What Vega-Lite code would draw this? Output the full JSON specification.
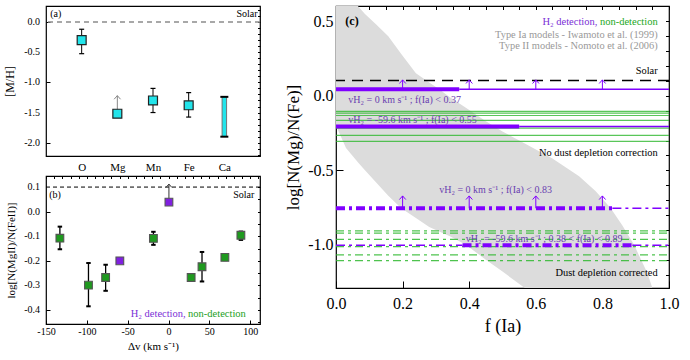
{
  "$schema": "https://vega.github.io/schema/vega-lite/v6.json",
  "padding": {"left": 2, "top": 4, "right": 5, "bottom": 2},
  "config": {
    "font": "Liberation Serif",
    "view": {"stroke": "#000", "strokeWidth": 1.2},
    "axis": {"domain": false, "grid": false, "labelColor": "#000", "titleColor": "#000", "titleFontWeight": "normal", "tickColor": "#000", "tickWidth": 1, "labelFont": "Liberation Serif", "titleFont": "Liberation Serif", "labelOverlap": false, "labelBound": false, "labelFlush": false},
    "text": {"font": "Liberation Serif"}
  },
  "datasets": {
    "metals": [
      {"element": "O", "pos": 1, "val": -0.30, "lo": -0.525, "hi": -0.12, "kind": "measurement"},
      {"element": "Mg", "pos": 2, "val": -1.52, "lo": null, "hi": -1.22, "kind": "lower limit"},
      {"element": "Mn", "pos": 3, "val": -1.30, "lo": -1.50, "hi": -1.10, "kind": "measurement"},
      {"element": "Fe", "pos": 4, "val": -1.38, "lo": -1.575, "hi": -1.17, "kind": "measurement"},
      {"element": "Ca", "pos": 5, "val": null, "lo": -1.90, "hi": -1.24, "kind": "range"}
    ],
    "mh_ticks": [
      {"v": -2.0, "label": "-2.0"}, {"v": -1.5, "label": "-1.5"}, {"v": -1.0, "label": "-1.0"}, {"v": -0.5, "label": "-0.5"}, {"v": 0, "label": "0.0"}
    ],
    "mgfe_ticks": [
      {"v": -0.4, "label": "-0.4"}, {"v": -0.3, "label": "-0.3"}, {"v": -0.2, "label": "-0.2"}, {"v": -0.1, "label": "-0.1"}, {"v": 0, "label": "0.0"}, {"v": 0.1, "label": "0.1"}
    ],
    "mgfe": [
      {"dv": -133, "ratio": -0.108, "lo": -0.153, "hi": -0.061, "limit": null, "detection": "non"},
      {"dv": -98, "ratio": -0.299, "lo": -0.385, "hi": -0.209, "limit": null, "detection": "non"},
      {"dv": -77, "ratio": -0.268, "lo": -0.322, "hi": -0.216, "limit": null, "detection": "non"},
      {"dv": -59.6, "ratio": -0.200, "lo": null, "hi": null, "limit": null, "detection": "H2"},
      {"dv": -18.5, "ratio": -0.109, "lo": -0.135, "hi": -0.082, "limit": null, "detection": "non"},
      {"dv": 0.5, "ratio": 0.039, "lo": null, "hi": null, "limit": 0.112, "detection": "H2"},
      {"dv": 27.7, "ratio": -0.268, "lo": -0.281, "hi": -0.254, "limit": null, "detection": "non"},
      {"dv": 41, "ratio": -0.224, "lo": -0.284, "hi": -0.164, "limit": null, "detection": "non"},
      {"dv": 69, "ratio": -0.186, "lo": -0.197, "hi": -0.176, "limit": null, "detection": "non"},
      {"dv": 88.6, "ratio": -0.096, "lo": -0.115, "hi": -0.081, "limit": null, "detection": "non"}
    ],
    "fia_band": [
      {"f": 0, "lo": -0.20, "hi": 0.76},
      {"f": 0.03, "lo": -0.35, "hi": 0.68},
      {"f": 0.067, "lo": -0.45, "hi": 0.60},
      {"f": 0.087, "lo": -0.50, "hi": 0.55},
      {"f": 0.12, "lo": -0.58, "hi": 0.48},
      {"f": 0.157, "lo": -0.67, "hi": 0.40},
      {"f": 0.196, "lo": -0.755, "hi": 0.28},
      {"f": 0.24, "lo": -0.82, "hi": 0.152},
      {"f": 0.28, "lo": -0.88, "hi": 0.09},
      {"f": 0.31, "lo": -0.91, "hi": 0.045},
      {"f": 0.342, "lo": -0.943, "hi": -0.01},
      {"f": 0.39, "lo": -1.0, "hi": -0.08},
      {"f": 0.45, "lo": -1.10, "hi": -0.17},
      {"f": 0.5, "lo": -1.18, "hi": -0.24},
      {"f": 0.567, "lo": -1.29, "hi": -0.32},
      {"f": 0.65, "lo": -1.42, "hi": -0.42},
      {"f": 0.73, "lo": -1.55, "hi": -0.54},
      {"f": 0.78, "lo": -1.62, "hi": -0.64},
      {"f": 0.825, "lo": -1.70, "hi": -0.755},
      {"f": 0.86, "lo": -1.75, "hi": -0.87},
      {"f": 0.895, "lo": -1.80, "hi": -1.0},
      {"f": 0.935, "lo": -1.86, "hi": -1.19},
      {"f": 0.95, "lo": -1.88, "hi": -1.29},
      {"f": 1.0, "lo": -1.95, "hi": -1.55}
    ],
    "fia_lines": [
      {"detection": "non", "correction": "none", "v": -0.105, "f0": 0, "f1": 1, "part": "all"},
      {"detection": "non", "correction": "none", "v": -0.116, "f0": 0, "f1": 1, "part": "all"},
      {"detection": "non", "correction": "none", "v": -0.132, "f0": 0, "f1": 1, "part": "all"},
      {"detection": "non", "correction": "none", "v": -0.165, "f0": 0, "f1": 1, "part": "all"},
      {"detection": "non", "correction": "none", "v": -0.217, "f0": 0, "f1": 1, "part": "all"},
      {"detection": "non", "correction": "none", "v": -0.266, "f0": 0, "f1": 1, "part": "all"},
      {"detection": "non", "correction": "none", "v": -0.306, "f0": 0, "f1": 1, "part": "all"},
      {"detection": "non", "correction": "dust", "v": -0.907, "f0": 0, "f1": 1, "part": "all"},
      {"detection": "non", "correction": "dust", "v": -0.922, "f0": 0, "f1": 1, "part": "all"},
      {"detection": "non", "correction": "dust", "v": -0.963, "f0": 0, "f1": 1, "part": "all"},
      {"detection": "non", "correction": "dust", "v": -1.012, "f0": 0, "f1": 1, "part": "all"},
      {"detection": "non", "correction": "dust", "v": -1.068, "f0": 0, "f1": 1, "part": "all"},
      {"detection": "non", "correction": "dust", "v": -1.106, "f0": 0, "f1": 1, "part": "all"},
      {"detection": "H2", "correction": "none", "v": 0.045, "f0": 0, "f1": 0.37, "part": "allowed"},
      {"detection": "H2", "correction": "none", "v": 0.045, "f0": 0.37, "f1": 1, "part": "excluded"},
      {"detection": "H2", "correction": "none", "v": -0.206, "f0": 0, "f1": 0.55, "part": "allowed"},
      {"detection": "H2", "correction": "none", "v": -0.206, "f0": 0.55, "f1": 1, "part": "excluded"},
      {"detection": "H2", "correction": "dust", "v": -0.755, "f0": 0, "f1": 0.83, "part": "allowed"},
      {"detection": "H2", "correction": "dust", "v": -0.755, "f0": 0.83, "f1": 1, "part": "excluded"},
      {"detection": "H2", "correction": "dust", "v": -1.003, "f0": 0, "f1": 0.38, "part": "excluded"},
      {"detection": "H2", "correction": "dust", "v": -1.003, "f0": 0.38, "f1": 0.89, "part": "allowed"},
      {"detection": "H2", "correction": "dust", "v": -1.003, "f0": 0.89, "f1": 1, "part": "excluded"}
    ],
    "fia_arrows": [
      {"f": 0.2, "from": 0.045, "to": 0.107}, {"f": 0.4, "from": 0.045, "to": 0.107},
      {"f": 0.6, "from": 0.045, "to": 0.107}, {"f": 0.8, "from": 0.045, "to": 0.107},
      {"f": 0.2, "from": -0.755, "to": -0.672}, {"f": 0.4, "from": -0.755, "to": -0.672},
      {"f": 0.6, "from": -0.755, "to": -0.672}, {"f": 0.8, "from": -0.755, "to": -0.672}
    ],
    "notes_c": [
      {"f": 0.785, "v": 0.493, "note": "H₂ detection,", "kind": "legend_h2"},
      {"f": 0.966, "v": 0.493, "note": "non-detection", "kind": "legend_non"},
      {"f": 0.966, "v": 0.406, "note": "Type Ia models - Iwamoto et al. (1999)", "kind": "ref"},
      {"f": 0.966, "v": 0.332, "note": "Type II models - Nomoto et al. (2006)", "kind": "ref"},
      {"f": 0.966, "v": 0.17, "note": "Solar", "kind": "note"},
      {"f": 0.966, "v": -0.385, "note": "No dust depletion correction", "kind": "note"},
      {"f": 0.966, "v": -1.19, "note": "Dust depletion corrected", "kind": "note"},
      {"f": 0.037, "v": -0.027, "note": "vH₂ = 0 km s⁻¹ ; f(Ia) < 0.37", "kind": "sightline"},
      {"f": 0.037, "v": -0.161, "note": "vH₂ = -59.6 km s⁻¹ ; f(Ia) < 0.55", "kind": "sightline"},
      {"f": 0.31, "v": -0.632, "note": "vH₂ = 0 km s⁻¹ ; f(Ia) < 0.83", "kind": "sightline"},
      {"f": 0.39, "v": -0.961, "note": "vH₂ = -59.6 km s⁻¹ ; 0.38 < f(Ia) < 0.89", "kind": "sightline"},
      {"f": 0.028, "v": 0.5, "note": "(c)", "kind": "panel"}
    ]
  },
  "hconcat": [
    {
      "vconcat": [
        {
          "width": 214, "height": 150,
          "layer": [
            {"layer": [
              {"data": {"values": [{"solar": 0}]},
               "mark": {"type": "rule", "color": "#8c8c8c", "strokeDash": [5, 4], "strokeWidth": 1.4},
               "encoding": {"y": {"field": "solar", "type": "quantitative",
                 "scale": {"domain": [-2.22, 0.265], "nice": false, "zero": false},
                 "axis": {"title": "[M/H]", "values": [-2.0, -1.5, -1.0, -0.5, 0], "labels": false,
                   "tickSize": -4, "titleFontSize": 12, "titlePadding": 29}}}},
              {"data": {"name": "mh_ticks"},
               "mark": {"type": "text", "align": "right", "baseline": "middle", "dx": -6, "fontSize": 10, "color": "#000"},
               "encoding": {"x": {"datum": 0, "type": "quantitative"}, "y": {"field": "v", "type": "quantitative"}, "text": {"field": "label"}}},
              {"data": {"name": "metals"}, "transform": [{"filter": "datum.kind === 'measurement'"}],
               "mark": {"type": "rule", "color": "#000", "strokeWidth": 1},
               "encoding": {
                 "x": {"field": "pos", "type": "quantitative", "scale": {"domain": [0, 6], "nice": false, "zero": false},
                   "axis": {"title": null, "values": [1, 2, 3, 4, 5], "labelExpr": "['','O','Mg','Mn','Fe','Ca'][datum.value]", "labelOverlap": false, "ticks": false, "labelPadding": 5, "labelFontSize": 11}},
                 "y": {"field": "lo", "type": "quantitative"}, "y2": {"field": "hi"}}},
              {"data": {"name": "metals"}, "transform": [{"filter": "datum.kind === 'measurement'"}],
               "mark": {"type": "point", "shape": "M-1,0L1,0", "size": 25, "color": "#000", "strokeWidth": 1.2, "filled": false, "opacity": 1},
               "encoding": {"x": {"field": "pos", "type": "quantitative"}, "y": {"field": "lo", "type": "quantitative"}}},
              {"data": {"name": "metals"}, "transform": [{"filter": "datum.kind === 'measurement'"}],
               "mark": {"type": "point", "shape": "M-1,0L1,0", "size": 25, "color": "#000", "strokeWidth": 1.2, "filled": false, "opacity": 1},
               "encoding": {"x": {"field": "pos", "type": "quantitative"}, "y": {"field": "hi", "type": "quantitative"}}},
              {"data": {"name": "metals"}, "transform": [{"filter": "datum.kind === 'range'"}],
               "mark": {"type": "rule", "color": "#777", "strokeWidth": 5.5},
               "encoding": {"x": {"field": "pos", "type": "quantitative"}, "y": {"field": "lo", "type": "quantitative"}, "y2": {"field": "hi"}}},
              {"data": {"name": "metals"}, "transform": [{"filter": "datum.kind === 'range'"}],
               "mark": {"type": "rule", "color": "#22e4ea", "strokeWidth": 3.5},
               "encoding": {"x": {"field": "pos", "type": "quantitative"}, "y": {"field": "lo", "type": "quantitative"}, "y2": {"field": "hi"}}},
              {"data": {"name": "metals"}, "transform": [{"filter": "datum.kind === 'range'"}],
               "mark": {"type": "point", "shape": "M-1,0L1,0", "size": 64, "color": "#000", "strokeWidth": 2, "filled": false, "opacity": 1},
               "encoding": {"x": {"field": "pos", "type": "quantitative"}, "y": {"field": "lo", "type": "quantitative"}}},
              {"data": {"name": "metals"}, "transform": [{"filter": "datum.kind === 'range'"}],
               "mark": {"type": "point", "shape": "M-1,0L1,0", "size": 64, "color": "#000", "strokeWidth": 2, "filled": false, "opacity": 1},
               "encoding": {"x": {"field": "pos", "type": "quantitative"}, "y": {"field": "hi", "type": "quantitative"}}},
              {"data": {"name": "metals"}, "transform": [{"filter": "datum.kind === 'lower limit'"}],
               "mark": {"type": "rule", "color": "#888", "strokeWidth": 1},
               "encoding": {"x": {"field": "pos", "type": "quantitative"}, "y": {"field": "val", "type": "quantitative"}, "y2": {"field": "hi"}}},
              {"data": {"name": "metals"}, "transform": [{"filter": "datum.kind === 'lower limit'"}],
               "mark": {"type": "point", "shape": "M-0.8,0.9L0,0L0.8,0.9", "size": 64, "color": "#888", "strokeWidth": 1, "filled": false, "opacity": 1},
               "encoding": {"x": {"field": "pos", "type": "quantitative"}, "y": {"field": "hi", "type": "quantitative"}}},
              {"data": {"name": "metals"}, "transform": [{"filter": "datum.kind !== 'range'"}],
               "mark": {"type": "point", "shape": "square", "size": 80, "filled": true, "color": "#22e4ea", "stroke": "#222", "strokeWidth": 1.2, "opacity": 1},
               "encoding": {"x": {"field": "pos", "type": "quantitative"}, "y": {"field": "val", "type": "quantitative"}}},
              {"data": {"values": [{"pos": 0.12, "v": 0.14, "note": "(a)"}]},
               "mark": {"type": "text", "align": "left", "baseline": "middle", "fontSize": 10},
               "encoding": {"x": {"field": "pos", "type": "quantitative"}, "y": {"field": "v", "type": "quantitative"}, "text": {"field": "note"}}},
              {"data": {"values": [{"pos": 5.93, "v": 0.14, "note": "Solar"}]},
               "mark": {"type": "text", "align": "right", "baseline": "middle", "fontSize": 10},
               "encoding": {"x": {"field": "pos", "type": "quantitative"}, "y": {"field": "v", "type": "quantitative"}, "text": {"field": "note"}}}
            ]},
            {"data": {"values": [{"v": 0}]},
             "mark": {"type": "point", "opacity": 0},
             "encoding": {"y": {"field": "v", "type": "quantitative",
               "axis": {"orient": "right", "labels": false, "title": null, "tickSize": -2.5, "values": [-2.2,-2.1,-2.0,-1.9,-1.8,-1.7,-1.6,-1.5,-1.4,-1.3,-1.2,-1.1,-1.0,-0.9,-0.8,-0.7,-0.6,-0.5,-0.4,-0.3,-0.2,-0.1,0,0.1,0.2]}}}}
          ],
          "resolve": {"axis": {"y": "independent"}}
        },
        {
          "width": 214, "height": 148,
          "layer": [
            {"layer": [
              {"data": {"values": [{"solar": 0.1}]},
               "mark": {"type": "rule", "color": "#000", "strokeDash": [4, 3], "strokeWidth": 1},
               "encoding": {"y": {"field": "solar", "type": "quantitative",
                 "scale": {"domain": [-0.457, 0.145], "nice": false, "zero": false},
                 "axis": {"title": "log[N(MgII)/N(FeII)]", "values": [-0.4, -0.3, -0.2, -0.1, 0, 0.1], "labels": false,
                   "tickSize": -4, "titleFontSize": 11, "titlePadding": 29}}}},
              {"data": {"name": "mgfe_ticks"},
               "mark": {"type": "text", "align": "right", "baseline": "middle", "dx": -6, "fontSize": 10, "color": "#000"},
               "encoding": {"x": {"datum": -150, "type": "quantitative"}, "y": {"field": "v", "type": "quantitative"}, "text": {"field": "label"}}},
              {"data": {"name": "mgfe"}, "transform": [{"filter": "datum.lo != null"}],
               "mark": {"type": "rule", "color": "#000", "strokeWidth": 1.3},
               "encoding": {
                 "x": {"field": "dv", "type": "quantitative", "scale": {"domain": [-150, 112], "nice": false, "zero": false},
                   "axis": {"title": "Δv (km s⁻¹)", "values": [-150, -100, -50, 0, 50, 100],
                     "labelExpr": "(datum.value < 0 ? '-' : '') + abs(datum.value)",
                     "labelOverlap": false, "tickSize": -4, "labelPadding": 6, "labelFontSize": 10, "titleFontSize": 11, "titlePadding": 4}},
                 "y": {"field": "lo", "type": "quantitative"}, "y2": {"field": "hi"}}},
              {"data": {"name": "mgfe"}, "transform": [{"filter": "datum.lo != null"}],
               "mark": {"type": "point", "shape": "M-1,0L1,0", "size": 20, "color": "#000", "strokeWidth": 2, "filled": false, "opacity": 1},
               "encoding": {"x": {"field": "dv", "type": "quantitative"}, "y": {"field": "lo", "type": "quantitative"}}},
              {"data": {"name": "mgfe"}, "transform": [{"filter": "datum.lo != null"}],
               "mark": {"type": "point", "shape": "M-1,0L1,0", "size": 20, "color": "#000", "strokeWidth": 2, "filled": false, "opacity": 1},
               "encoding": {"x": {"field": "dv", "type": "quantitative"}, "y": {"field": "hi", "type": "quantitative"}}},
              {"data": {"name": "mgfe"}, "transform": [{"filter": "datum.limit != null"}],
               "mark": {"type": "rule", "color": "#333", "strokeWidth": 1},
               "encoding": {"x": {"field": "dv", "type": "quantitative"}, "y": {"field": "ratio", "type": "quantitative"}, "y2": {"field": "limit"}}},
              {"data": {"name": "mgfe"}, "transform": [{"filter": "datum.limit != null"}],
               "mark": {"type": "point", "shape": "M-0.8,0.9L0,0L0.8,0.9", "size": 56, "color": "#333", "strokeWidth": 1, "filled": false, "opacity": 1},
               "encoding": {"x": {"field": "dv", "type": "quantitative"}, "y": {"field": "limit", "type": "quantitative"}}},
              {"data": {"name": "mgfe"},
               "mark": {"type": "point", "shape": "square", "size": 60, "filled": true, "stroke": "#555", "strokeWidth": 1.1, "opacity": 1},
               "encoding": {"x": {"field": "dv", "type": "quantitative"}, "y": {"field": "ratio", "type": "quantitative"},
                 "color": {"field": "detection", "type": "nominal", "scale": {"domain": ["H2", "non"], "range": ["#8020e0", "#1f9a1f"]}, "legend": null}}},
              {"data": {"values": [{"dv": -146, "v": 0.067, "note": "(b)"}]},
               "mark": {"type": "text", "align": "left", "baseline": "middle", "fontSize": 10},
               "encoding": {"x": {"field": "dv", "type": "quantitative"}, "y": {"field": "v", "type": "quantitative"}, "text": {"field": "note"}}},
              {"data": {"values": [{"dv": 105, "v": 0.067, "note": "Solar"}]},
               "mark": {"type": "text", "align": "right", "baseline": "middle", "fontSize": 10},
               "encoding": {"x": {"field": "dv", "type": "quantitative"}, "y": {"field": "v", "type": "quantitative"}, "text": {"field": "note"}}},
              {"data": {"values": [{"dv": 21, "v": -0.415, "note": "H₂ detection,"}]},
               "mark": {"type": "text", "align": "right", "baseline": "middle", "fontSize": 10.5, "color": "#7b2fd6"},
               "encoding": {"x": {"field": "dv", "type": "quantitative"}, "y": {"field": "v", "type": "quantitative"}, "text": {"field": "note"}}},
              {"data": {"values": [{"dv": 24, "v": -0.415, "note": "non-detection"}]},
               "mark": {"type": "text", "align": "left", "baseline": "middle", "fontSize": 10.5, "color": "#22a022"},
               "encoding": {"x": {"field": "dv", "type": "quantitative"}, "y": {"field": "v", "type": "quantitative"}, "text": {"field": "note"}}}
            ]},
            {"data": {"values": [{"a": 0, "v": 0}]},
             "mark": {"type": "point", "opacity": 0},
             "encoding": {
               "x": {"field": "a", "type": "quantitative", "axis": {"orient": "top", "labels": false, "title": null, "tickSize": -2.5, "values": [-150,-140,-130,-120,-110,-100,-90,-80,-70,-60,-50,-40,-30,-20,-10,0,10,20,30,40,50,60,70,80,90,100,110]}},
               "y": {"field": "v", "type": "quantitative", "axis": {"orient": "right", "labels": false, "title": null, "tickSize": -2.5, "values": [-0.45,-0.4,-0.35,-0.3,-0.25,-0.2,-0.15,-0.1,-0.05,0,0.05,0.1]}}}}
          ],
          "resolve": {"axis": {"x": "independent", "y": "independent"}}
        }
      ],
      "spacing": 20,
      "bounds": "flush"
    },
    {
      "width": 333, "height": 282,
      "layer": [
        {"layer": [
          {"data": {"name": "fia_band"},
           "mark": {"type": "area", "color": "#dcdcdc", "clip": true, "opacity": 1},
           "encoding": {
             "x": {"field": "f", "type": "quantitative", "scale": {"domain": [0, 1], "nice": false, "zero": false},
               "axis": {"title": "f (Ia)", "values": [0, 0.2, 0.4, 0.6, 0.8, 1],
                 "labelExpr": "format(datum.value, '.1f')",
                 "labelOverlap": false, "tickSize": -7, "labelPadding": 14, "labelFontSize": 16, "titleFontSize": 18, "titlePadding": 6}},
             "y": {"field": "lo", "type": "quantitative", "scale": {"domain": [-1.29, 0.603], "nice": false, "zero": false},
               "axis": {"title": "log[N(Mg)/N(Fe)]", "values": [-1.0, -0.5, 0, 0.5],
                 "labelExpr": "(datum.value < -1e-9 ? '-' : '') + format(abs(datum.value), '.1f')",
                 "labelOverlap": false, "tickSize": -7, "labelPadding": 10, "labelFontSize": 16, "titleFontSize": 17, "titlePadding": 5}},
             "y2": {"field": "hi"}}},
          {"data": {"name": "fia_lines"}, "transform": [{"filter": "datum.detection === 'non' && datum.correction === 'none'"}],
           "mark": {"type": "rule", "color": "#2fb82f", "strokeWidth": 1.2, "opacity": 0.8},
           "encoding": {"x": {"field": "f0", "type": "quantitative"}, "x2": {"field": "f1"}, "y": {"field": "v", "type": "quantitative"}}},
          {"data": {"name": "fia_lines"}, "transform": [{"filter": "datum.detection === 'non' && datum.correction === 'dust'"}],
           "mark": {"type": "rule", "color": "#2fb82f", "strokeWidth": 1.2, "opacity": 0.85, "strokeDash": [8, 4, 3, 4]},
           "encoding": {"x": {"field": "f0", "type": "quantitative"}, "x2": {"field": "f1"}, "y": {"field": "v", "type": "quantitative"}}},
          {"data": {"name": "fia_lines"}, "transform": [{"filter": "datum.detection === 'H2' && datum.correction === 'none' && datum.part === 'excluded'"}],
           "mark": {"type": "rule", "color": "#8000ff", "strokeWidth": 1.5},
           "encoding": {"x": {"field": "f0", "type": "quantitative"}, "x2": {"field": "f1"}, "y": {"field": "v", "type": "quantitative"}}},
          {"data": {"name": "fia_lines"}, "transform": [{"filter": "datum.detection === 'H2' && datum.correction === 'none' && datum.part === 'allowed'"}],
           "mark": {"type": "rule", "color": "#8000ff", "strokeWidth": 4},
           "encoding": {"x": {"field": "f0", "type": "quantitative"}, "x2": {"field": "f1"}, "y": {"field": "v", "type": "quantitative"}}},
          {"data": {"name": "fia_lines"}, "transform": [{"filter": "datum.detection === 'H2' && datum.correction === 'dust' && datum.part === 'excluded'"}],
           "mark": {"type": "rule", "color": "#8000ff", "strokeWidth": 1.5, "strokeDash": [9, 4, 3, 4]},
           "encoding": {"x": {"field": "f0", "type": "quantitative"}, "x2": {"field": "f1"}, "y": {"field": "v", "type": "quantitative"}}},
          {"data": {"name": "fia_lines"}, "transform": [{"filter": "datum.detection === 'H2' && datum.correction === 'dust' && datum.part === 'allowed'"}],
           "mark": {"type": "rule", "color": "#8000ff", "strokeWidth": 4, "strokeDash": [9, 4, 3, 4]},
           "encoding": {"x": {"field": "f0", "type": "quantitative"}, "x2": {"field": "f1"}, "y": {"field": "v", "type": "quantitative"}}},
          {"data": {"values": [{"solar": 0.103}]},
           "mark": {"type": "rule", "color": "#000", "strokeWidth": 1.6, "strokeDash": [11, 7]},
           "encoding": {"y": {"field": "solar", "type": "quantitative"}}},
          {"data": {"name": "fia_arrows"},
           "mark": {"type": "rule", "color": "#8000ff", "strokeWidth": 1},
           "encoding": {"x": {"field": "f", "type": "quantitative"}, "y": {"field": "from", "type": "quantitative"}, "y2": {"field": "to"}}},
          {"data": {"name": "fia_arrows"},
           "mark": {"type": "point", "shape": "M-0.8,0.9L0,0L0.8,0.9", "size": 64, "color": "#8000ff", "strokeWidth": 1, "filled": false, "opacity": 1},
           "encoding": {"x": {"field": "f", "type": "quantitative"}, "y": {"field": "to", "type": "quantitative"}}},
          {"data": {"name": "notes_c"}, "transform": [{"filter": "datum.kind === 'legend_h2'"}],
           "mark": {"type": "text", "align": "right", "baseline": "middle", "fontSize": 10.5, "color": "#7b2fd6"},
           "encoding": {"x": {"field": "f", "type": "quantitative"}, "y": {"field": "v", "type": "quantitative"}, "text": {"field": "note"}}},
          {"data": {"name": "notes_c"}, "transform": [{"filter": "datum.kind === 'legend_non'"}],
           "mark": {"type": "text", "align": "right", "baseline": "middle", "fontSize": 10.5, "color": "#22a822"},
           "encoding": {"x": {"field": "f", "type": "quantitative"}, "y": {"field": "v", "type": "quantitative"}, "text": {"field": "note"}}},
          {"data": {"name": "notes_c"}, "transform": [{"filter": "datum.kind === 'ref'"}],
           "mark": {"type": "text", "align": "right", "baseline": "middle", "fontSize": 10.4, "color": "#999"},
           "encoding": {"x": {"field": "f", "type": "quantitative"}, "y": {"field": "v", "type": "quantitative"}, "text": {"field": "note"}}},
          {"data": {"name": "notes_c"}, "transform": [{"filter": "datum.kind === 'note'"}],
           "mark": {"type": "text", "align": "right", "baseline": "middle", "fontSize": 10.4, "color": "#000"},
           "encoding": {"x": {"field": "f", "type": "quantitative"}, "y": {"field": "v", "type": "quantitative"}, "text": {"field": "note"}}},
          {"data": {"name": "notes_c"}, "transform": [{"filter": "datum.kind === 'sightline'"}],
           "mark": {"type": "text", "align": "left", "baseline": "middle", "fontSize": 10, "color": "#6a3fb0"},
           "encoding": {"x": {"field": "f", "type": "quantitative"}, "y": {"field": "v", "type": "quantitative"}, "text": {"field": "note"}}},
          {"data": {"name": "notes_c"}, "transform": [{"filter": "datum.kind === 'panel'"}],
           "mark": {"type": "text", "align": "left", "baseline": "middle", "fontSize": 12, "fontWeight": "bold", "color": "#000"},
           "encoding": {"x": {"field": "f", "type": "quantitative"}, "y": {"field": "v", "type": "quantitative"}, "text": {"field": "note"}}}
        ]},
        {"data": {"values": [{"a": 0, "v": 0}]},
         "mark": {"type": "point", "opacity": 0},
         "encoding": {
           "x": {"field": "a", "type": "quantitative", "axis": {"orient": "top", "labels": false, "title": null, "tickSize": -3.5, "values": [0,0.05,0.1,0.15,0.2,0.25,0.3,0.35,0.4,0.45,0.5,0.55,0.6,0.65,0.7,0.75,0.8,0.85,0.9,0.95,1]}},
           "y": {"field": "v", "type": "quantitative", "axis": {"orient": "right", "labels": false, "title": null, "tickSize": -3.5, "values": [-1.2,-1.1,-1.0,-0.9,-0.8,-0.7,-0.6,-0.5,-0.4,-0.3,-0.2,-0.1,0,0.1,0.2,0.3,0.4,0.5,0.6]}}}}
      ],
      "resolve": {"axis": {"x": "independent", "y": "independent"}}
    }
  ],
  "spacing": 22
}
